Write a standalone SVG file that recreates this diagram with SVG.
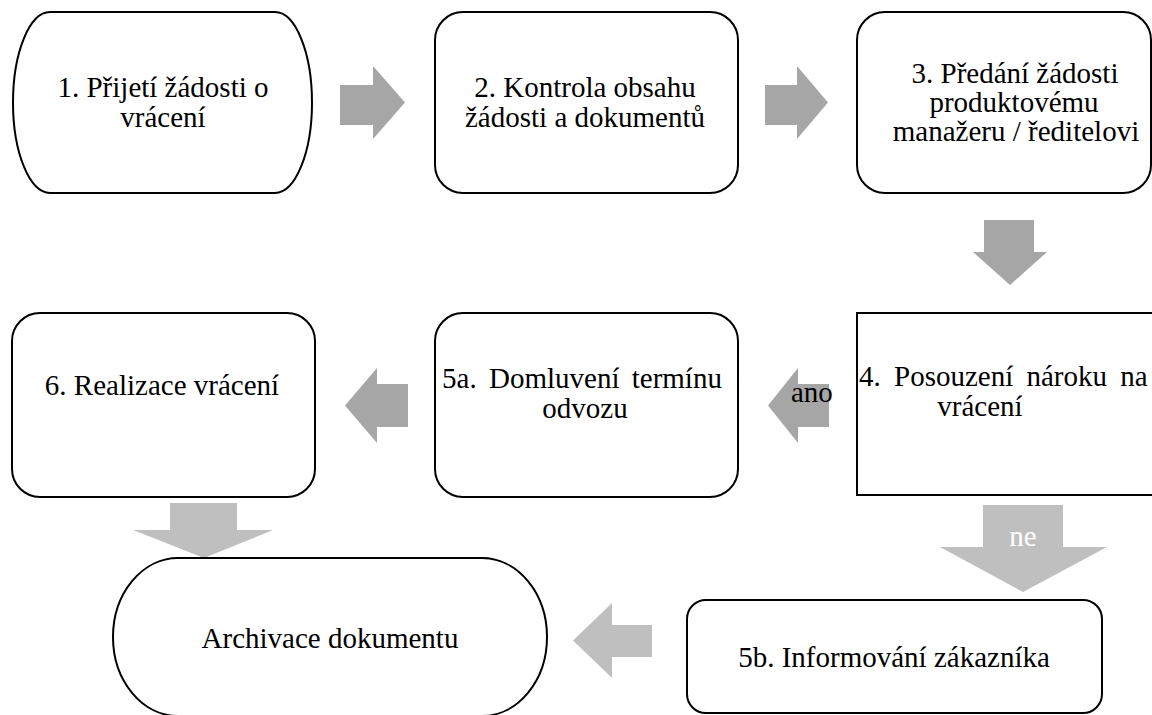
<svg xmlns="http://www.w3.org/2000/svg" width="1152" height="715" viewBox="0 0 1152 715">
  <style>
    .box { fill: #ffffff; stroke: #000000; stroke-width: 2; }
    .lbl { font-family: "Liberation Serif", "Times New Roman", serif; font-size: 29px; fill: #000000; text-anchor: middle; }
    .dark { fill: #a6a6a6; }
    .light { fill: #bfbfbf; }
    .onarrow { font-family: "Liberation Serif", "Times New Roman", serif; font-size: 29px; }
  </style>
  <rect width="1152" height="715" fill="#ffffff"/>

  <!-- connectors: block arrows -->
  <g id="connectors">
    <!-- 1 -> 2 -->
    <polygon class="dark" points="340,85 373,85 373,66 405,102.5 373,139 373,125 340,125"/>
    <!-- 2 -> 3 -->
    <polygon class="dark" points="765,85 797,85 797,66 828,102.5 797,139 797,125 765,125"/>
    <!-- 3 -> 4 -->
    <polygon class="dark" points="984,220 1034,220 1034,252 1047,252 1010,285 973,252 984,252"/>
    <!-- 4 -> 5a (ano) -->
    <polygon class="dark" points="829,384 798,384 798,368 768,405.5 798,443 798,427 829,427"/>
    <text class="onarrow" x="791" y="402" fill="#000000">ano</text>
    <!-- 5a -> 6 -->
    <polygon class="dark" points="408,384 377,384 377,368 345,405.5 377,443 377,427 408,427"/>
    <!-- 4 -> 5b (ne) -->
    <polygon class="light" points="983,505 1063,505 1063,547 1107,547 1023,592 940,547 983,547"/>
    <text class="onarrow" x="1023" y="546" fill="#ffffff" text-anchor="middle">ne</text>
    <!-- 6 -> archive -->
    <polygon class="light" points="170,503 237,503 237,530 273,530 204,558 133,530 170,530"/>
    <!-- 5b -> archive -->
    <polygon class="light" points="652,625 612,625 612,603 573,640.5 612,678 612,657 652,657"/>
  </g>

  <g id="node1">
    <rect class="box" x="13" y="12" width="299" height="181" rx="37" ry="90.5"/>
    <text class="lbl" x="163" y="97">1. Přijetí žádosti o</text>
    <text class="lbl" x="163" y="127">vrácení</text>
  </g>

  <g id="node2">
    <rect class="box" x="435" y="12" width="303" height="181" rx="28" ry="28"/>
    <text class="lbl" x="585" y="97">2. Kontrola obsahu</text>
    <text class="lbl" x="585" y="127">žádosti a dokumentů</text>
  </g>

  <g id="node3">
    <rect class="box" x="857" y="12" width="294" height="181" rx="28" ry="28"/>
    <text class="lbl" x="1015" y="83">3. Předání žádosti</text>
    <text class="lbl" x="1014" y="112">produktovému</text>
    <text class="lbl" x="1016" y="141">manažeru / ředitelovi</text>
  </g>

  <g id="node4">
    <rect class="box" x="857" y="313" width="300" height="182"/>
    <text class="lbl" x="859" y="386" text-anchor="start" style="text-anchor:start" word-spacing="6">4. Posouzení nároku na</text>
    <text class="lbl" x="980" y="416">vrácení</text>
  </g>

  <g id="node5a">
    <rect class="box" x="435" y="313" width="303" height="184" rx="28" ry="28"/>
    <text class="lbl" x="582" y="388" word-spacing="5">5a. Domluvení termínu</text>
    <text class="lbl" x="585" y="418">odvozu</text>
  </g>

  <g id="node6">
    <rect class="box" x="12" y="313" width="303" height="184" rx="28" ry="28"/>
    <text class="lbl" x="162" y="395">6. Realizace vrácení</text>
  </g>

  <g id="node5b">
    <rect class="box" x="687" y="600" width="415" height="113" rx="19" ry="19"/>
    <text class="lbl" x="894" y="667">5b. Informování zákazníka</text>
  </g>

  <g id="archive">
    <rect class="box" x="113" y="558" width="434" height="158" rx="65" ry="79"/>
    <text class="lbl" x="330" y="648">Archivace dokumentu</text>
  </g>
</svg>
